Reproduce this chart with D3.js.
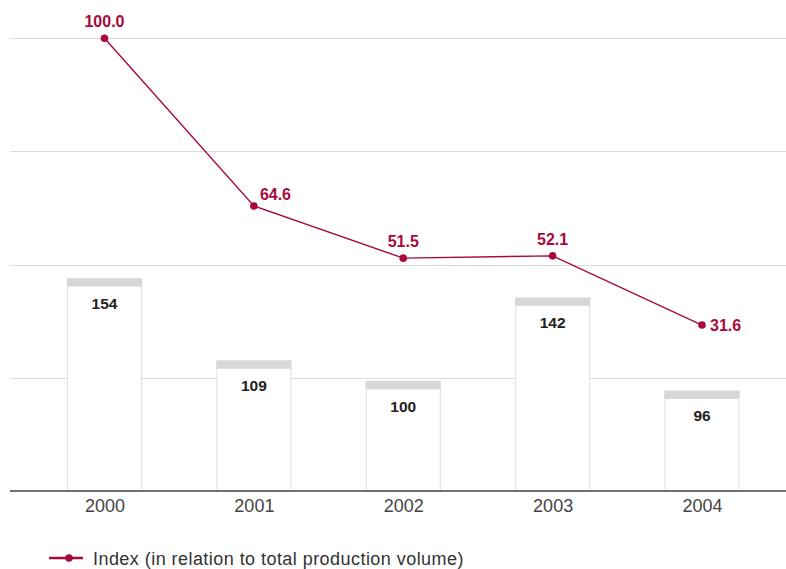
<!DOCTYPE html>
<html><head><meta charset="utf-8">
<script src="https://cdn.jsdelivr.net/npm/d3@7"></script>
<style>body{margin:0;background:#fff}svg{display:block;font-family:"Liberation Sans",Arial,sans-serif}</style>
</head><body><svg id="c" width="786" height="569"></svg>
<script>
const years = ["2000","2001","2002","2003","2004"];
const production = [154,109,100,142,96];
const indexValues = [100.0,64.6,51.5,52.1,31.6];
const indexLabelPlacement = ["above","right","above","above","right"];
const gridSteps = [1,2,3,4];
const legendLabel = "Index (in relation to total production volume)";

const red = "#a8093c";
const svg = d3.select("#c");
const baseY = 491, left = 10, right = 786;

const x = d3.scalePoint().domain(years).range([104.5, 702]);
const yGrid = d3.scaleLinear().domain([0,4]).range([baseY, 38]);
const yBar = d3.scaleLog().domain([63,160]).range([baseY, 269.5]);
const yIdx = d3.scalePow().exponent(1.5).domain([0,100]).range([387, 38.3]);
const barW = 75, capH = 8;

// gridlines
svg.append("g").selectAll("line").data(gridSteps).join("line")
  .attr("x1", left).attr("x2", right)
  .attr("y1", d => Math.round(yGrid(d))+0.5).attr("y2", d => Math.round(yGrid(d))+0.5)
  .attr("stroke", "#dcdcdc").attr("stroke-width", 1);

// bars
const bars = svg.append("g").selectAll("g").data(years).join("g");
bars.append("rect")
  .attr("x", d => x(d)-barW/2+0.5).attr("width", barW-1)
  .attr("y", (d,i) => yBar(production[i])).attr("height", (d,i) => baseY - yBar(production[i]))
  .attr("fill", "#fff").attr("stroke", "#e0e0e0").attr("stroke-width", 1);
bars.append("rect")
  .attr("x", d => x(d)-barW/2).attr("width", barW)
  .attr("y", (d,i) => yBar(production[i])).attr("height", capH)
  .attr("fill", "#d7d7d8");
bars.append("text")
  .attr("x", d => x(d)).attr("y", (d,i) => yBar(production[i]) + 30.5)
  .attr("text-anchor", "middle").attr("font-size", 15.5).attr("font-weight", "bold")
  .attr("fill", "#222").text((d,i) => production[i]);

// axis
const axis = d3.axisBottom(x).tickSize(0).tickPadding(8);
const ax = svg.append("g").attr("transform", `translate(0,${baseY})`).call(axis);
ax.select(".domain").remove();
ax.selectAll("text").attr("font-size", 18).attr("fill", "#444").attr("font-family", "Liberation Sans, Arial, sans-serif");
svg.append("line").attr("x1", left).attr("x2", right).attr("y1", baseY).attr("y2", baseY)
  .attr("stroke", "#444").attr("stroke-width", 1.6);

// index line
const line = d3.line().x((d,i) => x(years[i])).y(d => yIdx(d));
svg.append("path").datum(indexValues).attr("d", line)
  .attr("fill", "none").attr("stroke", red).attr("stroke-width", 1.4);
svg.append("g").selectAll("circle").data(indexValues).join("circle")
  .attr("cx", (d,i) => x(years[i])).attr("cy", d => yIdx(d)).attr("r", 3.8).attr("fill", red);
svg.append("g").selectAll("text").data(indexValues).join("text")
  .attr("x", (d,i) => indexLabelPlacement[i] === "right" ? x(years[i]) + (i===1?6:8) : x(years[i]))
  .attr("y", (d,i) => indexLabelPlacement[i] === "right" ? (i===1 ? yIdx(d) - 6 : yIdx(d) + 5.5) : yIdx(d) - 11)
  .attr("text-anchor", (d,i) => indexLabelPlacement[i] === "right" ? "start" : "middle")
  .attr("font-size", 16).attr("font-weight", "bold").attr("fill", red)
  .text(d => d.toFixed(1));

// legend
const lg = svg.append("g").attr("transform", "translate(49,558)");
lg.append("line").attr("x1", 0).attr("x2", 34).attr("y1", 0).attr("y2", 0).attr("stroke", red).attr("stroke-width", 2.5);
lg.append("circle").attr("cx", 20).attr("cy", 0).attr("r", 3.8).attr("fill", red);
lg.append("text").attr("x", 44).attr("y", 6.5).attr("font-size", 18).attr("letter-spacing", 0.45)
  .attr("fill", "#333").text(legendLabel);
</script></body></html>
